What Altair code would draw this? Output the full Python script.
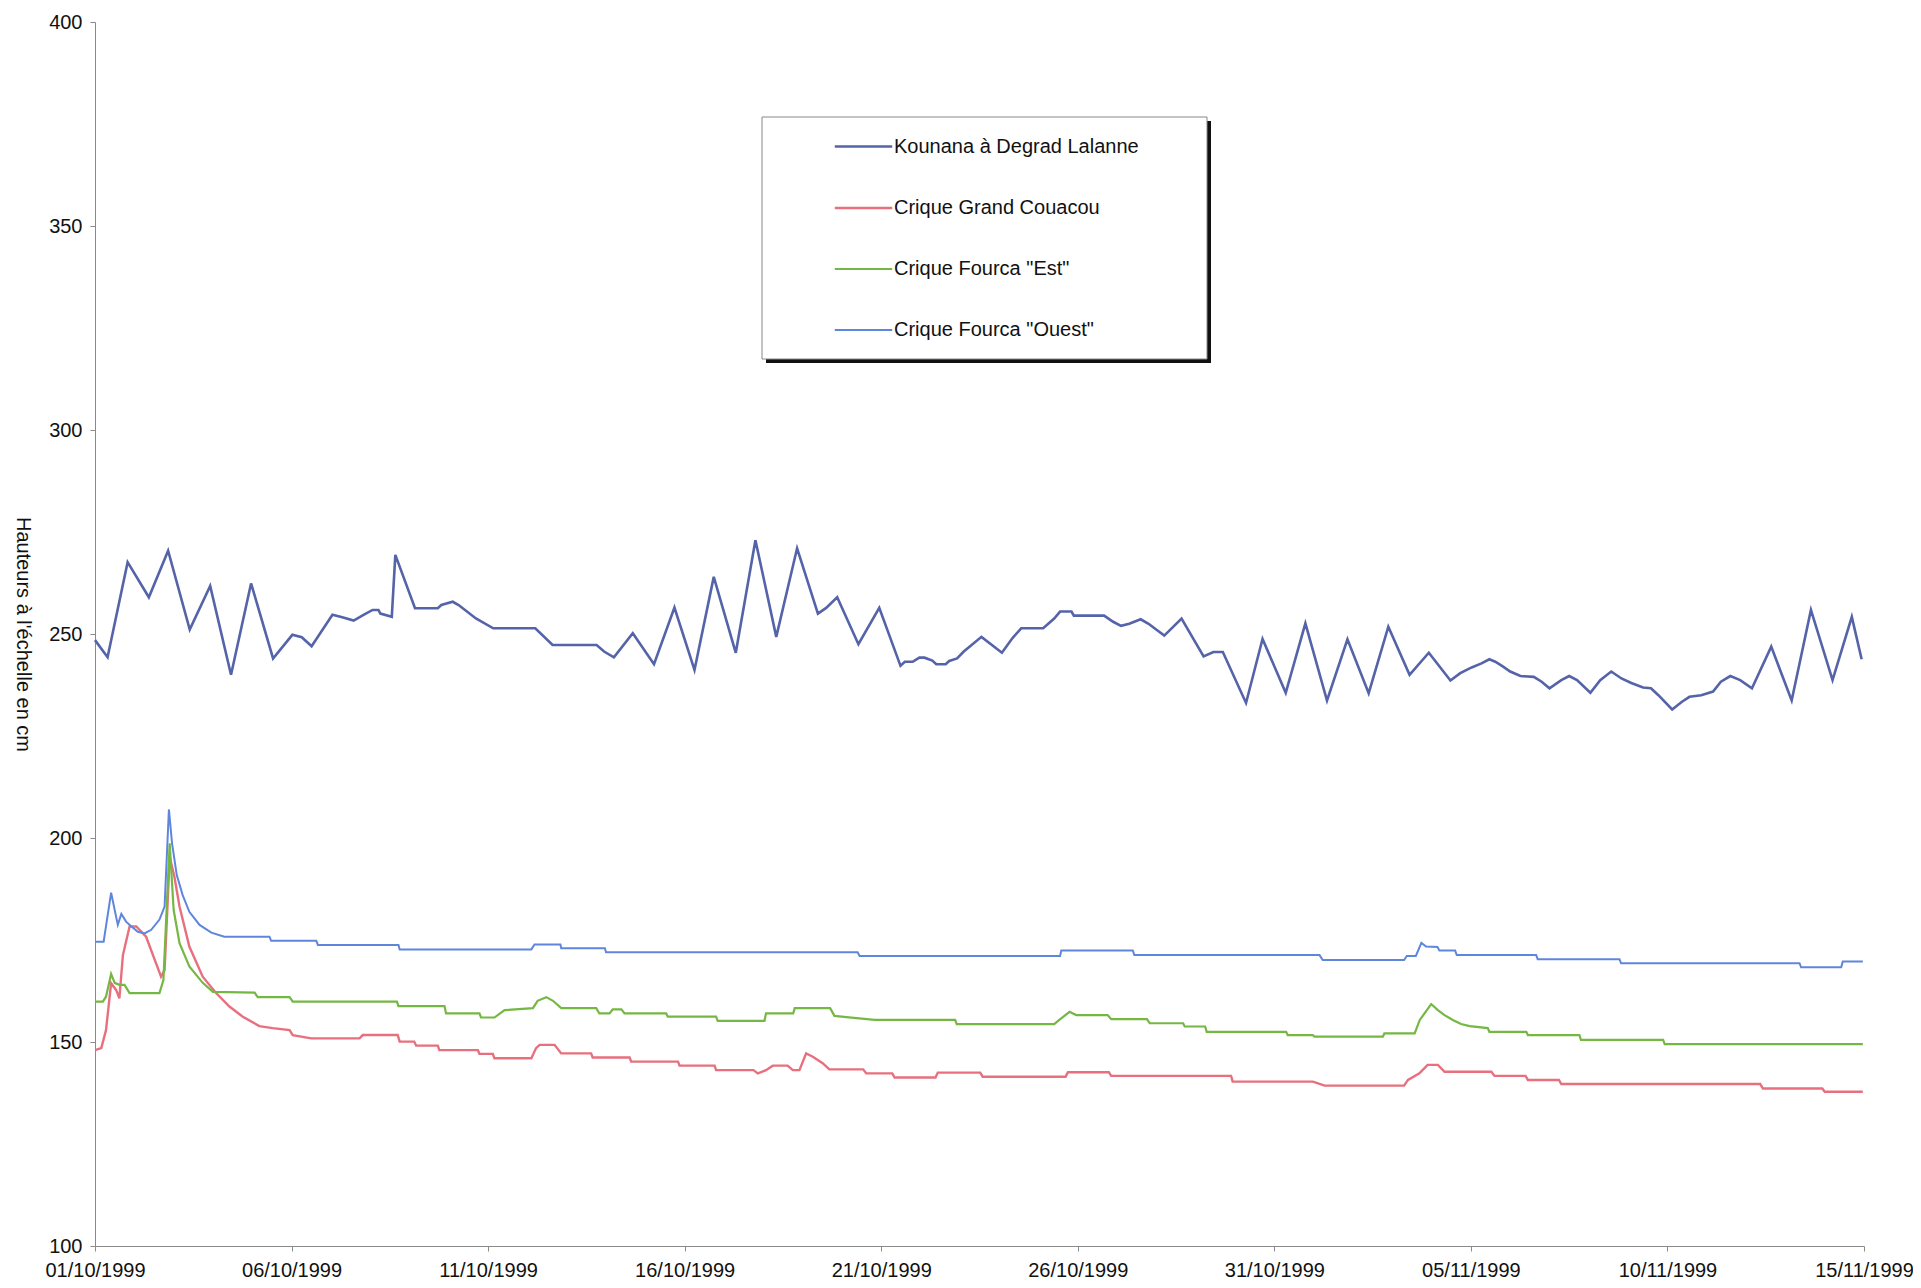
import pandas as pd
import altair as alt

# series names, in legend order
names = ["Kounana à Degrad Lalanne", "Crique Grand Couacou", 'Crique Fourca "Est"', 'Crique Fourca "Ouest"']
colors = ["#5563a8", "#e8707e", "#74b843", "#5f86dd"]
widths = [2.6, 2.0, 2.0, 2.0]

# days since 01/10/1999 and heights in cm
kounana_days = [0.0, 0.32, 0.83, 1.37, 1.86, 2.41, 2.93, 3.46, 3.97, 4.53, 5.02, 5.26, 5.51, 6.04,
                6.29, 6.58, 6.82, 7.06, 7.21, 7.26, 7.55, 7.64, 8.14, 8.72, 8.81, 9.1, 9.25, 9.69,
                10.13, 11.2, 11.64, 12.76, 12.95, 13.2, 13.68, 14.22, 14.74, 15.25, 15.74, 16.3,
                16.8, 17.33, 17.86, 18.39, 18.6, 18.88, 19.42, 19.95, 20.49, 20.6, 20.8, 20.97,
                21.1, 21.3, 21.4, 21.64, 21.73, 21.93, 22.1, 22.55, 23.07, 23.34, 23.56, 24.12,
                24.4, 24.55, 24.84, 24.9, 25.67, 25.9, 26.1, 26.31, 26.6, 26.8, 27.2, 27.64, 28.2,
                28.45, 28.69, 29.28, 29.7, 30.29, 30.79, 31.34, 31.86, 32.4, 32.9, 33.44, 33.93,
                34.48, 34.73, 35.02, 35.27, 35.47, 35.62, 35.82, 36.0, 36.26, 36.6, 36.8, 37.0,
                37.3, 37.5, 37.7, 38.04, 38.29, 38.57, 38.83, 39.08, 39.38, 39.58, 39.77, 40.12,
                40.37, 40.56, 40.86, 41.16, 41.36, 41.6, 41.85, 42.15, 42.64, 43.16, 43.65, 44.2,
                44.69, 44.94]
kounana_vals = [248.5, 244.3, 267.6, 259.0, 270.4, 251.1, 261.8, 240.0, 262.4, 244.0, 249.8, 249.2,
                247.0, 254.7, 254.1, 253.3, 254.6, 255.9, 255.9, 255.0, 254.2, 269.4, 256.3, 256.3,
                257.1, 257.9, 257.1, 253.8, 251.4, 251.4, 247.3, 247.3, 245.7, 244.3, 250.2, 242.6,
                256.5, 241.2, 264.0, 245.4, 273.0, 249.3, 271.0, 255.0, 256.4, 259.0, 247.5, 256.4,
                242.2, 243.2, 243.2, 244.2, 244.2, 243.5, 242.6, 242.6, 243.4, 244.0, 245.7, 249.3,
                245.4, 249.0, 251.4, 251.4, 253.8, 255.5, 255.5, 254.5, 254.5, 253.0, 252.0, 252.5,
                253.6, 252.5, 249.6, 253.8, 244.5, 245.6, 245.6, 233.1, 248.8, 235.6, 252.6, 233.7,
                248.7, 235.5, 251.8, 240.0, 245.4, 238.6, 240.4, 241.8, 242.8, 243.8, 243.2, 242.0,
                240.8, 239.7, 239.5, 238.3, 236.7, 238.7, 239.7, 238.7, 235.6, 238.7, 240.8, 239.1,
                238.0, 236.9, 236.7, 235.0, 231.5, 233.4, 234.6, 235.0, 235.9, 238.3, 239.7, 238.7,
                236.7, 246.9, 233.7, 255.9, 238.7, 254.2, 243.8]

couacou_days = [0.0, 0.16, 0.28, 0.41, 0.54, 0.62, 0.71, 0.88, 1.05, 1.3, 1.68, 1.77, 1.9, 2.02,
                2.15, 2.4, 2.74, 3.08, 3.42, 3.76, 4.18, 4.52, 4.95, 5.03, 5.5, 6.73, 6.81, 7.7,
                7.75, 8.12, 8.17, 8.72, 8.76, 9.74, 9.78, 10.12, 10.16, 11.1, 11.22, 11.31, 11.69,
                11.86, 12.62, 12.66, 13.6, 13.64, 14.83, 14.87, 15.76, 15.8, 16.75, 16.86, 17.07,
                17.24, 17.62, 17.75, 17.92, 18.09, 18.26, 18.51, 18.68, 19.54, 19.62, 20.28, 20.34,
                21.38, 21.44, 22.52, 22.58, 24.69, 24.75, 25.79, 25.85, 28.9, 28.94, 30.98, 31.28,
                33.3, 33.4, 33.69, 33.9, 34.16, 34.33, 35.52, 35.6, 36.39, 36.45, 37.24, 37.3,
                42.36, 42.43, 43.94, 44.0, 44.97]
couacou_vals = [148.0, 148.5, 152.9, 164.4, 162.7, 160.7, 171.3, 178.3, 178.3, 175.8, 166.0, 167.6,
                195.4, 190.5, 183.2, 173.4, 166.0, 162.0, 158.7, 156.2, 153.9, 153.4, 152.9, 151.7,
                150.9, 150.9, 151.7, 151.7, 150.1, 150.1, 149.1, 149.1, 148.0, 148.0, 147.1, 147.1,
                146.0, 146.0, 148.5, 149.3, 149.3, 147.2, 147.2, 146.2, 146.2, 145.2, 145.2, 144.2,
                144.2, 143.1, 143.1, 142.3, 143.1, 144.2, 144.2, 143.1, 143.1, 147.2, 146.4, 144.8,
                143.3, 143.3, 142.3, 142.3, 141.3, 141.3, 142.5, 142.5, 141.5, 141.5, 142.6, 142.6,
                141.7, 141.7, 140.3, 140.3, 139.3, 139.3, 140.7, 142.3, 144.4, 144.4, 142.7, 142.7,
                141.7, 141.7, 140.7, 140.7, 139.7, 139.7, 138.6, 138.6, 137.8, 137.8]

est_days = [0.0, 0.2, 0.28, 0.41, 0.5, 0.62, 0.75, 0.88, 1.64, 1.74, 1.9, 2.0, 2.15, 2.4, 2.74,
            3.0, 4.06, 4.14, 4.95, 5.03, 7.68, 7.72, 8.89, 8.93, 9.78, 9.82, 10.16, 10.42, 11.14,
            11.26, 11.48, 11.65, 11.86, 12.75, 12.83, 13.09, 13.17, 13.39, 13.47, 14.53, 14.57,
            15.8, 15.84, 17.03, 17.07, 17.76, 17.8, 18.7, 18.81, 19.83, 21.88, 21.92, 24.4,
            24.53, 24.79, 24.96, 25.76, 25.85, 26.76, 26.83, 27.68, 27.72, 28.24, 28.28, 30.3,
            30.34, 30.98, 31.02, 32.76, 32.8, 33.57, 33.7, 33.99, 34.16, 34.33, 34.54, 34.75,
            34.97, 35.43, 35.47, 36.41, 36.45, 37.76, 37.8, 39.89, 39.93, 44.97]
est_vals = [159.9, 159.9, 161.1, 166.7, 164.5, 164.0, 164.0, 162.0, 162.0, 165.2, 198.7, 182.4,
            174.2, 168.5, 164.5, 162.3, 162.1, 161.0, 161.0, 159.9, 159.9, 158.8, 158.8, 157.0,
            157.0, 156.0, 156.0, 157.8, 158.3, 160.1, 161.0, 160.1, 158.3, 158.3, 157.0, 157.0,
            158.0, 158.0, 157.0, 157.0, 156.2, 156.2, 155.2, 155.2, 157.0, 157.0, 158.3, 158.3,
            156.4, 155.4, 155.4, 154.4, 154.4, 155.4, 157.4, 156.6, 156.6, 155.6, 155.6, 154.6,
            154.6, 153.8, 153.8, 152.5, 152.5, 151.7, 151.7, 151.3, 151.3, 152.1, 152.1, 155.4,
            159.3, 157.8, 156.6, 155.4, 154.4, 153.9, 153.4, 152.5, 152.5, 151.7, 151.7, 150.5,
            150.5, 149.5, 149.5]

ouest_days = [0.0, 0.22, 0.41, 0.58, 0.67, 0.79, 0.92, 1.09, 1.26, 1.43, 1.64, 1.77, 1.88, 1.96,
              2.08, 2.23, 2.4, 2.66, 2.96, 3.29, 4.44, 4.48, 5.63, 5.67, 7.72, 7.75, 11.1, 11.18,
              11.84, 11.86, 12.97, 13.0, 19.4, 19.45, 24.55, 24.58, 26.4, 26.44, 31.15, 31.23,
              33.3, 33.37, 33.6, 33.74, 33.86, 34.15, 34.2, 34.6, 34.64, 36.66, 36.7, 38.78,
              38.82, 43.36, 43.4, 44.42, 44.46, 44.97]
ouest_vals = [174.6, 174.6, 186.6, 178.7, 181.4, 179.5, 178.4, 177.0, 176.6, 177.5, 180.0, 183.2,
              207.0, 198.7, 190.9, 186.0, 181.9, 178.7, 176.8, 175.8, 175.8, 174.8, 174.8, 173.8,
              173.8, 172.7, 172.7, 173.9, 173.9, 173.0, 173.0, 172.0, 172.0, 171.1, 171.1, 172.4,
              172.4, 171.3, 171.3, 170.1, 170.1, 171.1, 171.1, 174.3, 173.4, 173.3, 172.4, 172.4,
              171.3, 171.3, 170.3, 170.3, 169.3, 169.3, 168.3, 168.3, 169.7, 169.7]

tick_dates = ["1999-10-01", "1999-10-06", "1999-10-11", "1999-10-16", "1999-10-21",
              "1999-10-26", "1999-10-31", "1999-11-05", "1999-11-10", "1999-11-15"]

# build one long table
start = pd.Timestamp("1999-10-01")
frames = []
for name, days, vals in zip(names,
                            [kounana_days, couacou_days, est_days, ouest_days],
                            [kounana_vals, couacou_vals, est_vals, ouest_vals]):
    t = start + pd.to_timedelta(days, unit="D")
    frames.append(pd.DataFrame({
        "date": t.strftime("%Y-%m-%dT%H:%M:%S"),
        "hauteur": vals,
        "station": name,
    }))
df = pd.concat(frames, ignore_index=True)

font = "Liberation Sans"

# legend frame with its drop shadow
box = pd.DataFrame({"k": [0]})
shadow = alt.Chart(box).mark_rect(color="#111111").encode(
    x=alt.value(671), x2=alt.value(1116),
    y=alt.value(99), y2=alt.value(341),
)
frame = alt.Chart(box).mark_rect(fill="white", stroke="#888888", strokeWidth=1).encode(
    x=alt.value(667), x2=alt.value(1112),
    y=alt.value(95), y2=alt.value(337),
)

lines = alt.Chart(df).mark_line(interpolate="linear").encode(
    x=alt.X("date:T",
            scale=alt.Scale(domain=[alt.DateTime(year=1999, month=10, date=1),
                                    alt.DateTime(year=1999, month=11, date=15)]),
            axis=alt.Axis(title=None, format="%d/%m/%Y",
                          values=[alt.DateTime(year=int(d[:4]), month=int(d[5:7]), date=int(d[8:]))
                                  for d in tick_dates],
                          labelFontSize=20, labelPadding=9, tickSize=5, labelFlush=False,
                          labelAlign="center", labelOverlap=False,
                          grid=False, domainColor="#8a8a8a", tickColor="#8a8a8a",
                          labelColor="#111111", labelFont=font)),
    y=alt.Y("hauteur:Q",
            scale=alt.Scale(domain=[100, 400], nice=False, zero=False),
            axis=alt.Axis(title="Hauteurs à l'échelle en cm", values=list(range(100, 401, 50)),
                          labelFontSize=20, labelPadding=8, tickSize=5, grid=False,
                          domainColor="#8a8a8a", tickColor="#8a8a8a", labelColor="#111111",
                          labelFont=font, titleFont=font, titleFontSize=20,
                          titleFontWeight="normal", titleColor="#111111", titleAngle=90,
                          titleX=-73, titleY=612, titleBaseline="middle", titleAlign="center")),
    color=alt.Color("station:N",
                    scale=alt.Scale(domain=names, range=colors),
                    sort=names,
                    legend=alt.Legend(title=None, orient="none", legendX=738, legendY=94,
                                      symbolType="stroke", symbolSize=3300, symbolStrokeWidth=2.5,
                                      labelFontSize=20, labelFont=font, labelColor="#111111",
                                      labelOffset=0, rowPadding=21, padding=0, labelLimit=400)),
    strokeWidth=alt.StrokeWidth("station:N",
                                scale=alt.Scale(domain=names, range=widths),
                                legend=None),
    order=alt.Order("date:T"),
)

chart = alt.layer(shadow, frame, lines).properties(
    width=1769,
    height=1224,
    autosize=alt.AutoSizeParams(type="none"),
    padding={"left": 87, "top": 14, "right": 49, "bottom": 34},
    view=alt.ViewBackground(strokeWidth=0, strokeOpacity=0, fill="white"),
).configure_view(
    stroke="transparent", strokeWidth=0, strokeOpacity=0
).configure_axis(grid=False).configure(background="white")

chart.save("out.html", embed_options={"renderer": "svg", "actions": False})
